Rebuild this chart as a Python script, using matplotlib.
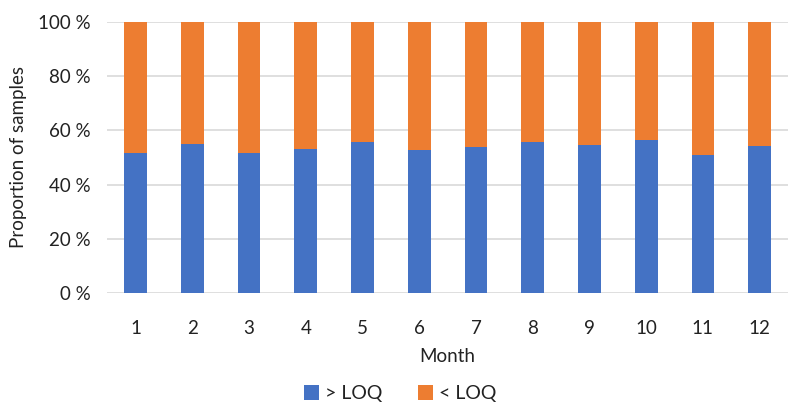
import matplotlib.pyplot as plt
import numpy as np

# data (percent of samples)
months = ['1', '2', '3', '4', '5', '6', '7', '8', '9', '10', '11', '12']
above_loq = [51.5, 54.9, 51.8, 53.0, 55.6, 52.7, 54.0, 55.6, 54.7, 56.4, 50.8, 54.2]
below_loq = [100 - v for v in above_loq]

plt.rcParams['font.family'] = ['Lato', 'DejaVu Sans']

fig = plt.figure(figsize=(8, 4.15), dpi=100)
ax = fig.add_axes([0.134, 0.293, 0.851, 0.655])

x = np.arange(len(months))
ax.bar(x, above_loq, width=0.4, color='#4472c4', label='> LOQ', zorder=3)
ax.bar(x, below_loq, width=0.4, bottom=above_loq, color='#ed7d31', label='< LOQ', zorder=3)

ax.set_xlim(-0.5, len(months) - 0.5)
ax.set_ylim(0, 100)
ax.set_yticks(range(0, 101, 20))
ax.set_yticklabels([f'{v} %' for v in range(0, 101, 20)])
ax.set_xticks(x)
ax.set_xticklabels(months)
ax.tick_params(length=0, labelsize=13.5, colors='#222222')
ax.tick_params(axis='x', pad=19)
ax.tick_params(axis='y', pad=12)

ax.grid(axis='y', color='#d9d9d9', linewidth=1.2, zorder=0)
for s in ax.spines.values():
    s.set_visible(False)

ax.set_xlabel('Month', fontsize=13.5, color='#222222', labelpad=8)
ax.set_ylabel('Proportion of samples', fontsize=13.5, color='#222222', labelpad=8)

fig.legend(loc='center', bbox_to_anchor=(0.5, 0.052), ncol=2, frameon=False,
           fontsize=14, handlelength=0.8, handleheight=0.8, handletextpad=0.3,
           columnspacing=1.8, labelcolor='#222222')

fig.savefig('out.png', dpi=100)
